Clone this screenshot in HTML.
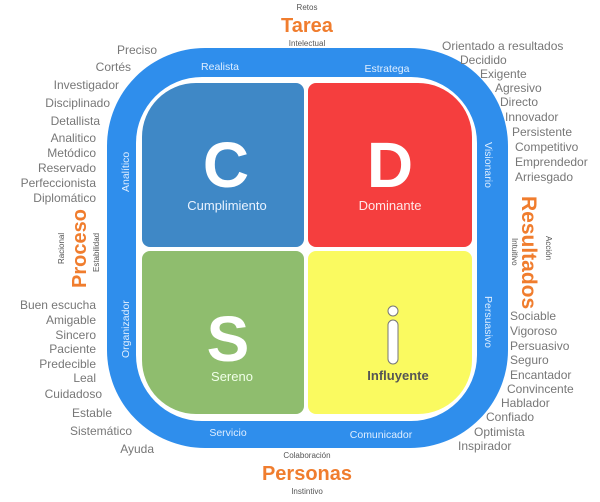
<!DOCTYPE html>
<html><head><meta charset="utf-8"><style>
html,body{margin:0;padding:0;background:#fff;}
svg{display:block;font-family:"Liberation Sans",sans-serif;}
.g{fill:#777;font-size:12px;}
.w{fill:#dfeeff;font-size:10.5px;}
.s{fill:#555;font-size:8px;}
.o{fill:#f07d2e;font-size:20px;font-weight:bold;}
</style></head><body>
<svg width="600" height="502" viewBox="0 0 600 502" xmlns="http://www.w3.org/2000/svg">
<rect x="107" y="48" width="401" height="400" rx="98" fill="#2f8eec"/>
<rect x="136" y="77" width="341" height="344" rx="66" fill="#fff"/>
<path d="M196,83 H296 a8,8 0 0 1 8,8 V239 a8,8 0 0 1 -8,8 H150 a8,8 0 0 1 -8,-8 V137 a54,54 0 0 1 54,-54Z" fill="#3f88c6"/>
<path d="M316,83 H418 a54,54 0 0 1 54,54 V239 a8,8 0 0 1 -8,8 H316 a8,8 0 0 1 -8,-8 V91 a8,8 0 0 1 8,-8Z" fill="#f53e3e"/>
<path d="M150,251 H296 a8,8 0 0 1 8,8 V406 a8,8 0 0 1 -8,8 H196 a54,54 0 0 1 -54,-54 V259 a8,8 0 0 1 8,-8Z" fill="#8fbd6e"/>
<path d="M316,251 H464 a8,8 0 0 1 8,8 V360 a54,54 0 0 1 -54,54 H316 a8,8 0 0 1 -8,-8 V259 a8,8 0 0 1 8,-8Z" fill="#fafa60"/>
<text x="226" y="187" text-anchor="middle" fill="#fff" font-size="64" font-weight="bold">C</text>
<text x="390" y="187" text-anchor="middle" fill="#fff" font-size="64" font-weight="bold">D</text>
<text x="228" y="361" text-anchor="middle" fill="#fff" font-size="64" font-weight="bold">S</text>
<circle cx="393" cy="311" r="5" fill="#fff" stroke="#777" stroke-width="1"/>
<rect x="388" y="320" width="10" height="44" rx="5" fill="#fff" stroke="#777" stroke-width="1"/>
<text x="227" y="210" text-anchor="middle" fill="#e8f2ff" font-size="13">Cumplimiento</text>
<text x="390" y="210" text-anchor="middle" fill="#ffe8e8" font-size="13">Dominante</text>
<text x="232" y="381" text-anchor="middle" fill="#f0ffe8" font-size="13">Sereno</text>
<text x="398" y="380" text-anchor="middle" fill="#555" font-size="13" font-weight="bold">Influyente</text>
<text x="220" y="70" text-anchor="middle" class="w">Realista</text>
<text x="387" y="72" text-anchor="middle" class="w">Estratega</text>
<text x="228" y="436" text-anchor="middle" class="w">Servicio</text>
<text x="381" y="438" text-anchor="middle" class="w">Comunicador</text>
<text transform="translate(129,192) rotate(-90)" class="w">Analítico</text>
<text transform="translate(129,358) rotate(-90)" class="w">Organizador</text>
<text transform="translate(485,142) rotate(90)" class="w">Visionario</text>
<text transform="translate(485,296) rotate(90)" class="w">Persuasivo</text>
<text x="307" y="10" text-anchor="middle" class="s">Retos</text>
<text x="307" y="32" text-anchor="middle" class="o">Tarea</text>
<text x="307" y="46" text-anchor="middle" class="s">Intelectual</text>
<text x="307" y="458" text-anchor="middle" class="s">Colaboración</text>
<text x="307" y="480" text-anchor="middle" class="o">Personas</text>
<text x="307" y="494" text-anchor="middle" class="s">Instintivo</text>
<text transform="translate(86,288) rotate(-90)" class="o">Proceso</text>
<text transform="translate(64,264) rotate(-90)" class="s">Racional</text>
<text transform="translate(99,272) rotate(-90)" class="s">Estabilidad</text>
<text transform="translate(522,196) rotate(90)" class="o" style="font-size:21px">Resultados</text>
<text transform="translate(512,238) rotate(90)" class="s">Intuitivo</text>
<text transform="translate(546,236) rotate(90)" class="s">Acción</text>
<g class="g" text-anchor="end">
<text x="157" y="54">Preciso</text><text x="131" y="71">Cortés</text><text x="119" y="89">Investigador</text>
<text x="110" y="107">Disciplinado</text><text x="100" y="125">Detallista</text><text x="96" y="142">Analitico</text>
<text x="96" y="157">Metódico</text><text x="96" y="172">Reservado</text><text x="96" y="187">Perfeccionista</text>
<text x="96" y="202">Diplomático</text>
<text x="96" y="309">Buen escucha</text><text x="96" y="324">Amigable</text><text x="96" y="339">Sincero</text>
<text x="96" y="353">Paciente</text><text x="96" y="368">Predecible</text><text x="96" y="382">Leal</text>
<text x="102" y="398">Cuidadoso</text><text x="112" y="417">Estable</text><text x="132" y="435">Sistemático</text>
<text x="154" y="453">Ayuda</text>
</g>
<g class="g">
<text x="442" y="50">Orientado a resultados</text><text x="460" y="64">Decidido</text><text x="480" y="78">Exigente</text>
<text x="495" y="92">Agresivo</text><text x="500" y="106">Directo</text><text x="505" y="121">Innovador</text>
<text x="512" y="136">Persistente</text><text x="515" y="151">Competitivo</text><text x="515" y="166">Emprendedor</text>
<text x="515" y="181">Arriesgado</text>
<text x="510" y="320">Sociable</text><text x="510" y="335">Vigoroso</text><text x="510" y="350">Persuasivo</text>
<text x="510" y="364">Seguro</text><text x="510" y="379">Encantador</text><text x="507" y="393">Convincente</text>
<text x="501" y="407">Hablador</text><text x="486" y="421">Confiado</text><text x="474" y="436">Optimista</text>
<text x="458" y="450">Inspirador</text>
</g>
</svg>
</body></html>
